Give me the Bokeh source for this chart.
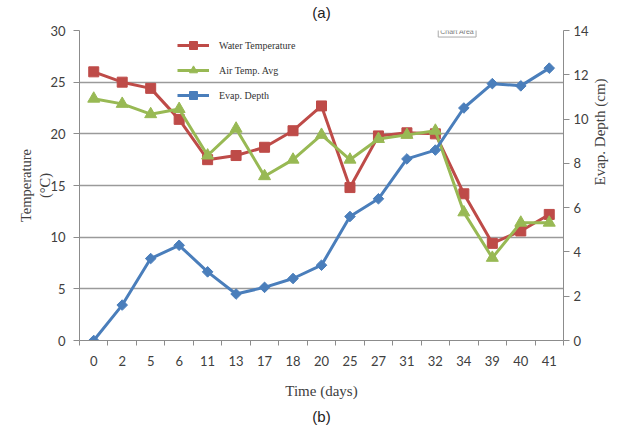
import math
from bokeh.plotting import figure
from bokeh.models import (FactorRange, Range1d, LinearAxis, CategoricalAxis, FixedTicker,
                          Legend, LegendItem, Label, Title, CustomJSTickFormatter)
from bokeh.embed import file_html
from bokeh.resources import INLINE

days = ["0", "2", "5", "6", "11", "13", "17", "18", "20", "25", "27", "31", "32", "34", "39", "40", "41"]
water_temp = [26.0, 25.0, 24.4, 21.4, 17.5, 17.9, 18.7, 20.3, 22.7, 14.8, 19.8, 20.1, 20.0, 14.2, 9.4, 10.6, 12.2]
air_temp = [23.4, 22.9, 21.9, 22.4, 17.9, 20.5, 15.9, 17.5, 19.9, 17.5, 19.5, 19.9, 20.3, 12.4, 8.0, 11.4, 11.4]
evap_depth = [0.0, 1.6, 3.7, 4.3, 3.1, 2.1, 2.4, 2.8, 3.4, 5.6, 6.4, 8.2, 8.6, 10.5, 11.6, 11.5, 12.3]
temp_ticks = [0, 5, 10, 15, 20, 25, 30]
evap_ticks = [0, 2, 4, 6, 8, 10, 12, 14]

RED = "#BE4B48"
GREEN = "#98B954"
BLUE = "#4A7EBB"
AXIS_GREY = "#8C8C8C"
TEXT = "#404040"
TICK_FONT = "Lato"
SERIF = "Liberation Serif"

p = figure(x_range=FactorRange(factors=days), y_range=Range1d(0, 30),
           frame_width=484, frame_height=310,
           min_border_left=79, min_border_right=58, min_border_top=30, min_border_bottom=86,
           x_axis_location=None, toolbar_location=None, output_backend="svg",
           background_fill_color="white", border_fill_color="white")
p.outline_line_color = None
p.xgrid.visible = False
p.ygrid.grid_line_color = "#9A9A9A"
p.ygrid.grid_line_width = 1.3
p.ygrid.ticker = FixedTicker(ticks=temp_ticks)

# left axis
ya = p.yaxis[0]
ya.ticker = FixedTicker(ticks=temp_ticks)
ya.axis_line_color = AXIS_GREY
ya.major_tick_line_color = AXIS_GREY
ya.major_tick_out = 6
ya.major_tick_in = 0
ya.minor_tick_line_color = None
ya.major_label_text_font = TICK_FONT
ya.major_label_text_font_size = "13px"
ya.major_label_text_color = TEXT
ya.major_label_standoff = 8
ya.axis_label = "Temperature\n(°C)"
ya.axis_label_text_font = SERIF
ya.axis_label_text_font_style = "normal"
ya.axis_label_text_font_size = "14.5px"
ya.axis_label_text_color = TEXT
ya.axis_label_standoff = -6

# right axis
p.extra_y_ranges = {"evap": Range1d(0, 14)}
ra = LinearAxis(y_range_name="evap", ticker=FixedTicker(ticks=evap_ticks))
ra.axis_line_color = AXIS_GREY
ra.major_tick_line_color = AXIS_GREY
ra.major_tick_out = 6
ra.major_tick_in = 0
ra.minor_tick_line_color = None
ra.major_label_text_font = TICK_FONT
ra.major_label_text_font_size = "13px"
ra.major_label_text_color = TEXT
ra.major_label_standoff = 4
ra.axis_label = "Evap. Depth (cm)"
ra.axis_label_text_font = SERIF
ra.axis_label_text_font_style = "normal"
ra.axis_label_text_font_size = "15px"
ra.axis_label_text_color = TEXT
ra.axis_label_standoff = 8
ra.axis_label_orientation = math.pi / 2
p.add_layout(ra, "right")

# bottom: tick marks between categories (synthetic category boundaries)
ta = LinearAxis(ticker=FixedTicker(ticks=list(range(len(days) + 1))),
                formatter=CustomJSTickFormatter(code="return ''"))
ta.axis_line_color = AXIS_GREY
ta.major_tick_line_color = AXIS_GREY
ta.major_tick_out = 5
ta.major_tick_in = 0
ta.minor_tick_line_color = None
ta.major_label_text_font_size = "1px"
ta.major_label_standoff = 0
p.add_layout(ta, "below")

xa = CategoricalAxis()
xa.axis_line_color = None
xa.major_tick_line_color = None
xa.minor_tick_line_color = None
xa.major_label_text_font = TICK_FONT
xa.major_label_text_font_size = "13px"
xa.major_label_text_color = TEXT
xa.major_label_standoff = 4
xa.axis_label = "Time (days)"
xa.axis_label_text_font = SERIF
xa.axis_label_text_font_style = "normal"
xa.axis_label_text_font_size = "15px"
xa.axis_label_text_color = TEXT
xa.axis_label_standoff = 14
p.add_layout(xa, "below")

p.add_layout(Title(text="(b)", align="center", offset=2, standoff=8,
                   text_font="Liberation Sans", text_font_style="normal", text_font_size="15px",
                   text_color="#222222"), "below")

# "(a)" caption above the plot, as the label of an empty top axis
top = LinearAxis(ticker=FixedTicker(ticks=[]))
top.axis_line_color = None
top.major_tick_line_color = None
top.minor_tick_line_color = None
top.axis_label = "(a)"
top.axis_label_text_font = "Liberation Sans"
top.axis_label_text_font_style = "normal"
top.axis_label_text_font_size = "15px"
top.axis_label_text_color = "#222222"
top.axis_label_standoff = 10
p.add_layout(top, "above")

# series
wl = p.line(days, water_temp, line_color=RED, line_width=3)
ws = p.scatter(days, water_temp, marker="square", size=10, fill_color=RED, line_color=RED)
al = p.line(days, air_temp, line_color=GREEN, line_width=3)
as_ = p.scatter(days, air_temp, marker="triangle", size=12, fill_color=GREEN, line_color=GREEN)
el = p.line(days, evap_depth, line_color=BLUE, line_width=3, y_range_name="evap")
es = p.scatter(days, evap_depth, marker="square", angle=math.pi / 4, size=7.5,
               fill_color=BLUE, line_color=BLUE, y_range_name="evap")

legend = Legend(items=[
    LegendItem(label="Water Temperature", renderers=[wl, ws]),
    LegendItem(label="Air Temp. Avg", renderers=[al, as_]),
    LegendItem(label="Evap. Depth", renderers=[el, es]),
], location=(98, 235))
legend.border_line_color = None
legend.background_fill_alpha = 0
legend.padding = 0
legend.margin = 0
legend.spacing = 5
legend.glyph_width = 32
legend.glyph_height = 20
legend.label_height = 20
legend.label_standoff = 10
legend.label_text_font = SERIF
legend.label_text_font_size = "10px"
legend.label_text_color = "#333333"
p.add_layout(legend, "center")

p.add_layout(Label(x=12.6, y=29.9, text="Chart Area", text_align="left", text_baseline="middle",
                   text_font="Liberation Sans", text_font_size="7px", text_color="#777777",
                   background_fill_color="white", border_line_color="#AAAAAA",
                   padding=2))

open("out.html", "w").write(file_html(p, INLINE))
